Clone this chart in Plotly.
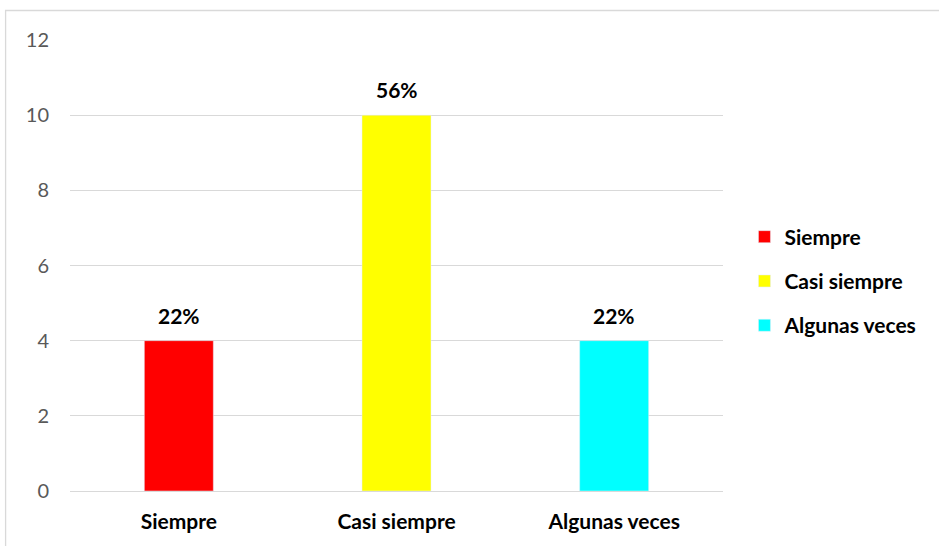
import plotly.graph_objects as go

categories = ["Siempre", "Casi siempre", "Algunas veces"]
values = [4, 10, 4]
percent_labels = ["22%", "56%", "22%"]
colors = ["#FF0000", "#FFFF00", "#00FFFF"]
y_ticks = [0, 2, 4, 6, 8, 10, 12]

FONT = "Lato"
FS = 21

fig = go.Figure()
for i, (cat, val, col) in enumerate(zip(categories, values, colors)):
    fig.add_trace(go.Bar(
        x=[cat], y=[val], name=cat, marker_color=col,
        width=0.317, legendgroup=f"g{i}", hoverinfo="skip",
    ))
    fig.add_annotation(
        x=cat, y=val, text=f"<b>{percent_labels[i]}</b>", showarrow=False,
        yanchor="bottom", yshift=11, font=dict(family=FONT, size=FS, color="#000000"),
    )

W, H = 939, 546
L, R, T, B = 69.5, 215.5, 40, 55
pw, ph = W - L - R, H - T - B

def px_x(x):
    return (x - L) / pw

def px_y(y):
    return (H - B - y) / ph

fig.add_shape(type="rect", xref="paper", yref="paper",
              x0=px_x(5), x1=px_x(960), y0=px_y(570), y1=px_y(10.5),
              line=dict(color="#D9D9D9", width=1.3), fillcolor="rgba(0,0,0,0)", layer="below")

fig.update_layout(
    width=W, height=H,
    margin=dict(l=L, r=R, t=T, b=B, autoexpand=False),
    paper_bgcolor="white", plot_bgcolor="white",
    barmode="overlay",
    hovermode=False,
    font=dict(family=FONT),
    showlegend=True,
    legend=dict(
        x=px_x(745), y=px_y(281), xanchor="left", yanchor="middle",
        font=dict(family=FONT, size=FS, color="#000000", weight="bold"),
        tracegroupgap=14, traceorder="grouped",
        itemwidth=30, bgcolor="rgba(0,0,0,0)",
    ),
    xaxis=dict(
        tickfont=dict(family=FONT, size=FS, color="#000000", weight="bold"),
        showline=False, showgrid=False, ticks="", ticklabelstandoff=16,
    ),
    yaxis=dict(
        range=[0, 12], tickvals=y_ticks, showgrid=True, gridcolor="#D9D9D9", gridwidth=1.3,
        zeroline=True, zerolinecolor="#D9D9D9", zerolinewidth=1.3,
        tickfont=dict(family=FONT, size=20, color="#595959"), ticks="", ticklabelstandoff=20,
        showline=False,
    ),
)

fig.write_html("out.html", config={"displayModeBar": False},
               post_script="document.body.style.margin='0';document.body.style.overflow='hidden';")
